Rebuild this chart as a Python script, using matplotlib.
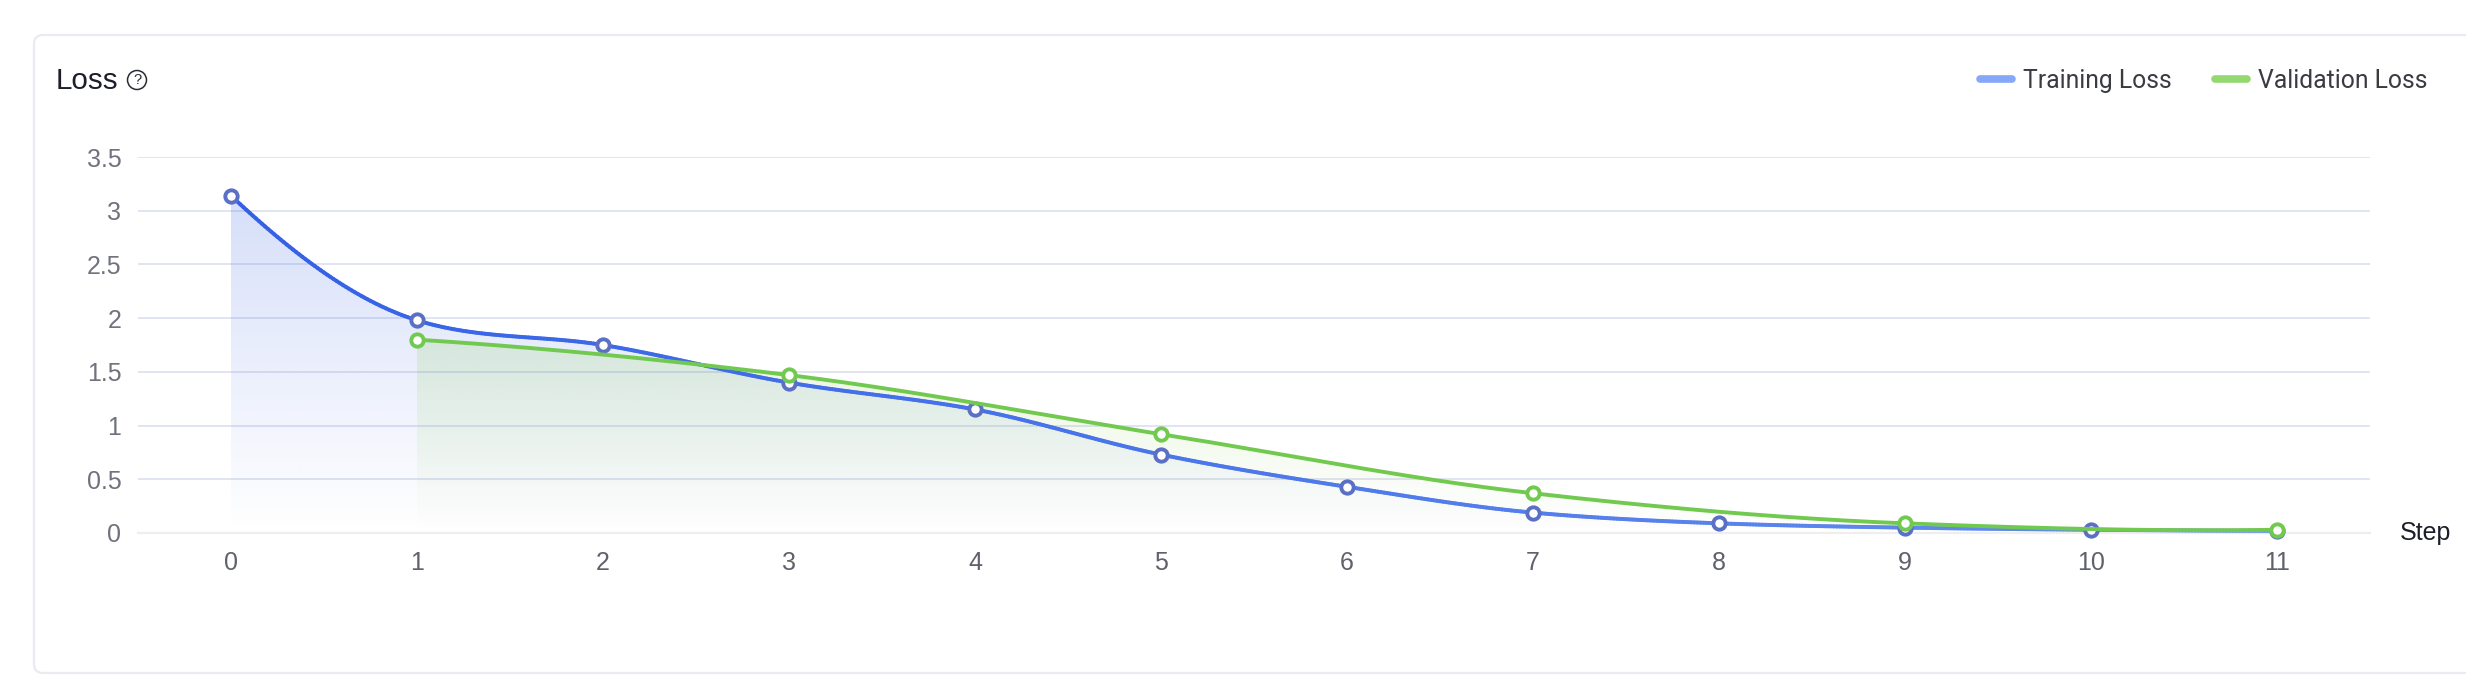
import numpy as np
import matplotlib
matplotlib.use("Agg")
import matplotlib.pyplot as plt
from matplotlib.collections import LineCollection
from matplotlib.colors import to_rgb
from matplotlib.lines import Line2D
from matplotlib.patches import Circle, FancyBboxPatch, PathPatch
from matplotlib.path import Path

train_steps = [0, 1, 2, 3, 4, 5, 6, 7, 8, 9, 10, 11]
train_loss = [3.14, 1.98, 1.75, 1.40, 1.15, 0.73, 0.43, 0.19, 0.09, 0.05, 0.03, 0.02]
val_steps = [1, 3, 5, 7, 9, 11]
val_loss = [1.80, 1.47, 0.92, 0.37, 0.09, 0.03]
y_ticks = [0, 0.5, 1, 1.5, 2, 2.5, 3, 3.5]
y_labels = ["0", "0.5", "1", "1.5", "2", "2.5", "3", "3.5"]

W, H = 2466, 690
LABEL = "Liberation Sans"
LEGEND = "Roboto"


def smooth(xs, ys, n=60):
    """Cubic Hermite curve through the data points, with softened monotone tangents."""
    xs, ys = np.asarray(xs, float), np.asarray(ys, float)
    h = np.diff(xs)
    d = np.diff(ys) / h
    m = np.zeros_like(ys)
    for i in range(1, len(ys) - 1):
        if d[i - 1] * d[i] > 0:
            w1, w2 = 2 * h[i] + h[i - 1], h[i] + 2 * h[i - 1]
            harmonic = (w1 + w2) / (w1 / d[i - 1] + w2 / d[i])
            m[i] = 0.5 * harmonic + 0.5 * (d[i - 1] + d[i]) / 2
    m[0] = ((2 * h[0] + h[1]) * d[0] - h[0] * d[1]) / (h[0] + h[1])
    m[-1] = ((2 * h[-1] + h[-2]) * d[-1] - h[-1] * d[-2]) / (h[-1] + h[-2])
    out_x, out_y = [], []
    for i in range(len(xs) - 1):
        t = np.linspace(0, 1, n, endpoint=i == len(xs) - 2)
        a = (2 * t ** 3 - 3 * t ** 2 + 1) * ys[i] + (t ** 3 - 2 * t ** 2 + t) * h[i] * m[i]
        b = (-2 * t ** 3 + 3 * t ** 2) * ys[i + 1] + (t ** 3 - t ** 2) * h[i] * m[i + 1]
        out_x.extend(xs[i] + t * h[i])
        out_y.extend(a + b)
    return np.array(out_x), np.array(out_y)


def gradient_fill(ax, x, y, color, top_alpha, zorder):
    top = y.max()
    rgb = to_rgb(color)
    img = np.zeros((256, 2, 4))
    img[..., :3] = rgb
    img[..., 3] = np.linspace(top_alpha, 0, 256)[:, None]
    im = ax.imshow(img, extent=(x.min(), x.max(), 0, top), origin="upper",
                   aspect="auto", zorder=zorder, interpolation="bilinear")
    verts = np.vstack([[x[0], 0], np.column_stack([x, y]), [x[-1], 0], [x[0], 0]])
    clip = PathPatch(Path(verts), transform=ax.transData, fc="none", ec="none")
    ax.add_patch(clip)
    im.set_clip_path(clip)


fig = plt.figure(figsize=(W / 100, H / 100), dpi=100, facecolor="white")

bg = fig.add_axes([0, 0, 1, 1], zorder=0)
bg.set_xlim(0, W)
bg.set_ylim(H, 0)
bg.axis("off")
bg.add_patch(FancyBboxPatch((34, 35), W + 60, 638, boxstyle="round,pad=0,rounding_size=9",
                            fc="white", ec="#e9ebf0", lw=1.6))
bg.text(56, 81, "Loss", family=LABEL, fontsize=21.3, color="#1c1f2b", va="center", ha="left")
bg.add_patch(Circle((137, 80), 9.5, fc="none", ec="#2a2c35", lw=1.1))
bg.text(137, 80.5, "?", family=LABEL, fontsize=10.5, color="#2a2c35", va="center", ha="center")

left, right, top, bottom = 138, 2370, 157, 533
ax = fig.add_axes([left / W, 1 - bottom / H, (right - left) / W, (bottom - top) / H], zorder=1)
ax.patch.set_alpha(0)

tx, ty = smooth(train_steps, train_loss)
vx, vy = smooth(val_steps, val_loss)

ax.set_yticks(y_ticks, y_labels)
ax.set_xticks(train_steps)
ax.grid(axis="y", color="#e1e4f1", lw=1.4, zorder=0)
ax.set_axisbelow(True)
for s in ["top", "right", "left"]:
    ax.spines[s].set_visible(False)
ax.spines["bottom"].set_color("#eeeeee")
ax.spines["bottom"].set_linewidth(1.6)
ax.tick_params(length=0, labelsize=18, labelcolor="#70727d")
ax.tick_params(axis="y", pad=12)
ax.tick_params(axis="x", pad=13, labelcolor="#5f616b")
for lb in ax.get_xticklabels() + ax.get_yticklabels():
    lb.set_family(LABEL)

gradient_fill(ax, tx, ty, "#3b66e6", 0.21, 1.5)
gradient_fill(ax, vx, vy, "#7dc840", 0.17, 1.6)

# training line with its slight colour drift along the steps
pts = np.column_stack([tx, ty])
segs = np.stack([pts[:-1], pts[1:]], axis=1)
c0, c1 = np.array(to_rgb("#3460e6")), np.array(to_rgb("#6690ee"))
frac = (tx[:-1] / max(train_steps))[:, None]
ax.add_collection(LineCollection(segs, colors=c0 + (c1 - c0) * frac, linewidths=2.8,
                                 capstyle="round", zorder=3, clip_on=False))
ax.plot(train_steps, train_loss, ls="none", marker="o", ms=8.9, mfc="white",
        mec="#5b70c4", mew=2.8, zorder=4, clip_on=False)
ax.plot(vx, vy, color="#72c94f", lw=2.8, zorder=5, solid_capstyle="round", clip_on=False)
ax.plot(val_steps, val_loss, ls="none", marker="o", ms=8.9, mfc="white",
        mec="#72c94f", mew=2.8, zorder=6, clip_on=False)

ax.set_xlim(-0.5, 11.5)
ax.set_ylim(0, 3.5)

handles = [Line2D([], [], color="#85a9f8", lw=5.5, solid_capstyle="round"),
           Line2D([], [], color="#94d871", lw=5.5, solid_capstyle="round")]
leg = fig.legend(handles, ["Training Loss", "Validation Loss"], loc="center right",
                 bbox_to_anchor=(2428 / W, 1 - 81 / H), ncol=2, frameon=False,
                 prop={"family": LEGEND, "size": 17.8}, labelcolor="#3a3c42",
                 handlelength=1.3, handletextpad=0.45, columnspacing=1.75,
                 borderpad=0, borderaxespad=0)

bg.text(2400, 533, "Step", family=LABEL, fontsize=18, color="#1c1f2b", va="center", ha="left")

fig.savefig("out.png", dpi=100, facecolor="white")
